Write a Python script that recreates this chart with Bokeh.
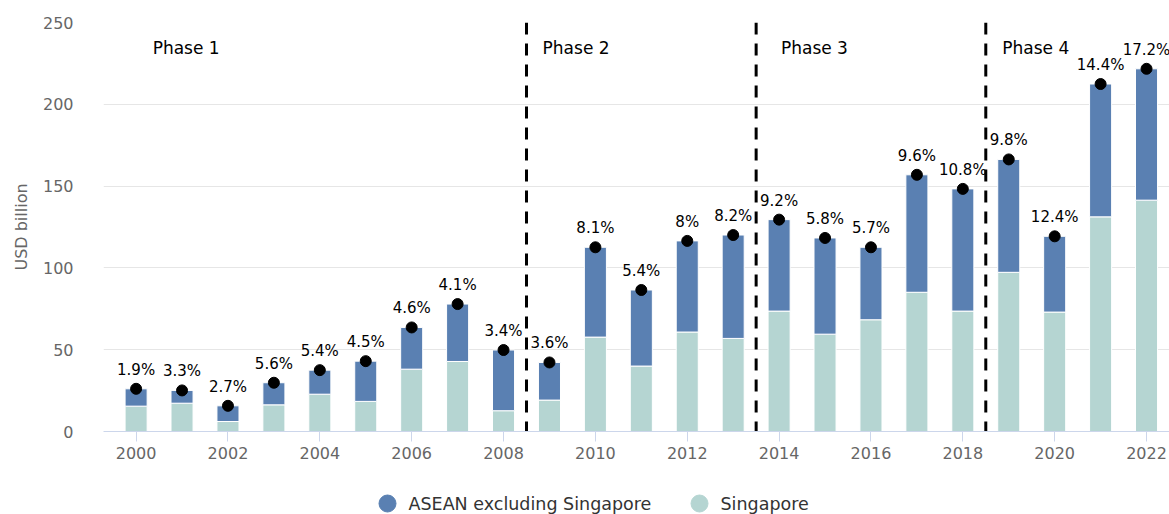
from bokeh.plotting import figure
from bokeh.layouts import column
from bokeh.models import ColumnDataSource, Range1d, FixedTicker
from bokeh.core.properties import value
from bokeh.embed import file_html
from bokeh.resources import INLINE

years = list(range(2000, 2023))
singapore = [15.5, 17.3, 6.1, 16.3, 22.8, 18.4, 38.1, 42.8, 12.7, 19.2, 57.7, 40.0,
             60.8, 56.9, 73.6, 59.5, 68.3, 85.1, 73.6, 97.3, 73.0, 131.2, 141.4]
asean_ex_sg = [10.6, 7.8, 9.6, 13.5, 14.7, 24.6, 25.5, 35.1, 37.1, 23.0, 54.9, 46.5,
               55.7, 63.2, 55.9, 58.8, 44.3, 71.8, 74.7, 69.0, 46.3, 81.2, 80.3]
share_pct = [1.9, 3.3, 2.7, 5.6, 5.4, 4.5, 4.6, 4.1, 3.4, 3.6, 8.1, 5.4,
             8, 8.2, 9.2, 5.8, 5.7, 9.6, 10.8, 9.8, 12.4, 14.4, 17.2]
phase_names = ["Phase 1", "Phase 2", "Phase 3", "Phase 4"]
phase_label_x = [2000.36, 2008.85, 2014.04, 2018.86]
phase_label_y = [234.7, 234.7, 234.7, 234.7]
phase_boundaries = [2008.5, 2013.5, 2018.5]
series_names = ["ASEAN excluding Singapore", "Singapore"]

FONT = "DejaVu Sans"
BLUE = "#5a80b2"
TEAL = "#b5d5d2"
series_colors = [BLUE, TEAL]

total = [s + a for s, a in zip(singapore, asean_ex_sg)]
source = ColumnDataSource(dict(
    year=years, sg=singapore, asean=asean_ex_sg, total=total,
    pct=["%g%%" % v for v in share_pct],
))

FRAME_LEFT = 103
p = figure(width=1169, height=467, output_backend="svg", toolbar_location=None,
           x_range=Range1d(1999.29, 2022.5), y_range=Range1d(0, 250),
           min_border_left=FRAME_LEFT, min_border_right=0, min_border_top=22,
           min_border_bottom=36)
p.outline_line_color = None
p.background_fill_color = "white"
p.border_fill_color = "white"

# bars
p.vbar_stack(["sg", "asean"], x="year", width=0.48, color=[TEAL, BLUE],
             line_color="white", line_width=1, source=source)

# phase boundaries
p.segment(x0=phase_boundaries, y0=[250] * len(phase_boundaries),
          x1=phase_boundaries, y1=[0] * len(phase_boundaries),
          line_color="black", line_width=3, line_dash="12 9")

# dots and labels
p.scatter(x="year", y="total", size=11, color="black", source=source)
p.text(x="year", y="total", text="pct", source=source, text_align="center",
       text_baseline="alphabetic", y_offset=-19, text_font=value(FONT),
       text_font_size="15px", text_color="#000000")

p.text(x=phase_label_x, y=phase_label_y, text=phase_names, text_align="left",
       text_baseline="alphabetic", text_font=value(FONT), text_font_size="17px",
       text_color="#000000")

# axes
xa = p.xaxis[0]
xa.ticker = FixedTicker(ticks=list(range(2000, 2023, 2)))
xa.axis_line_color = "#ccd6eb"
xa.major_tick_line_color = "#ccd6eb"
xa.major_tick_out = 10
xa.major_tick_in = 0
xa.minor_tick_line_color = None
xa.major_label_standoff = 5
xa.major_label_text_font = FONT
xa.major_label_text_font_size = "16px"
xa.major_label_text_color = "#666666"

ya = p.yaxis[0]
ya.ticker = FixedTicker(ticks=[0, 50, 100, 150, 200, 250])
ya.axis_line_color = None
ya.major_tick_line_color = None
ya.minor_tick_line_color = None
ya.major_label_standoff = 24
ya.major_label_text_font = FONT
ya.major_label_text_font_size = "16px"
ya.major_label_text_color = "#666666"
ya.axis_label = "USD billion"
ya.axis_label_text_font = FONT
ya.axis_label_text_font_size = "16px"
ya.axis_label_text_font_style = "normal"
ya.axis_label_text_color = "#666666"
ya.axis_label_standoff = 9

p.xgrid.grid_line_color = None
p.ygrid.grid_line_color = "#e6e6e6"
p.ygrid.ticker = FixedTicker(ticks=[0, 50, 100, 150, 200, 250])

# legend strip (separate figure; its frame is aligned with the main frame,
# so its x range is expressed in page pixels)
LEG_W, LEG_H = 1169, 47
leg = figure(width=LEG_W, height=LEG_H, output_backend="svg", toolbar_location=None,
             x_range=Range1d(FRAME_LEFT, LEG_W), y_range=Range1d(0, LEG_H),
             min_border=0, min_border_left=0, min_border_right=0,
             min_border_top=0, min_border_bottom=0)
leg.axis.visible = False
leg.grid.visible = False
leg.outline_line_color = None
leg.background_fill_color = "white"
leg.border_fill_color = "white"
marker_x = [387, 699]
marker_y = [11, 11]
leg.scatter(x=marker_x, y=marker_y, size=17, fill_color=series_colors,
            line_color=series_colors)
leg.text(x=[mx + 21 for mx in marker_x], y=marker_y, text=series_names,
         text_align="left", text_baseline="middle", text_font=value(FONT),
         text_font_size="17.5px", text_color="#333333")

open("out.html", "w").write(file_html(column(p, leg), INLINE))
